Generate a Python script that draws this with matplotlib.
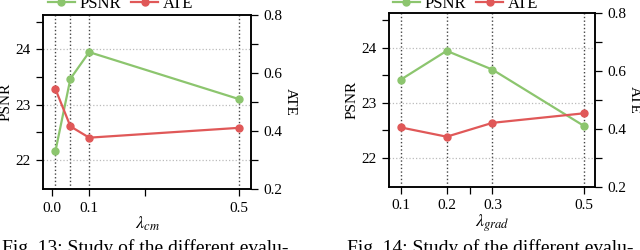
"""
Ablation plots: PSNR / ATE vs. loss weights lambda_cm and lambda_grad.
Two side-by-side panels with a twin y-axis for ATE.
"""

import matplotlib
matplotlib.use("Agg")
import matplotlib.pyplot as plt
from matplotlib.lines import Line2D

plt.rcParams["font.family"] = ["Liberation Serif", "DejaVu Serif"]
plt.rcParams["mathtext.fontset"] = "stix"
plt.rcParams["font.size"] = 11

# ─── Data ────────────────────────────────────────────────────────────────────
CM_X    = [0.01, 0.05, 0.1, 0.5]
CM_PSNR = [22.16, 23.47, 23.95, 23.10]
CM_ATE  = [0.545, 0.416, 0.377, 0.411]
CM_TICKS  = [0.0, 0.1, 0.5]
CM_LABELS = ["0.0", "0.1", "0.5"]

GRAD_X    = [0.1, 0.2, 0.3, 0.5]
GRAD_PSNR = [23.42, 23.94, 23.60, 22.58]
GRAD_ATE  = [0.405, 0.373, 0.421, 0.454]
GRAD_TICKS  = [0.1, 0.2, 0.3, 0.5]
GRAD_LABELS = ["0.1", "0.2", "0.3", "0.5"]

X_MINOR = [0.25]

PSNR_TICKS = [22, 23, 24]
PSNR_MINOR = [22.5, 23.5, 24.5]
ATE_TICKS  = [0.2, 0.4, 0.6, 0.8]
ATE_MINOR  = [0.3, 0.5, 0.7]

CAPTIONS = ["Fig. 13: Study of the different evalu-",
            "Fig. 14: Study of the different evalu-"]

GREEN = "#8cc56e"
RED   = "#e05858"


def panel(fig, rect, x, psnr, ate, ticks, labels, xlim, xlabel):
    ax = fig.add_axes(rect)
    ax2 = ax.twinx()

    ax.set_ylim(21.48, 24.62)
    ax2.set_ylim(0.2, 0.8)
    ax.set_xlim(*xlim)

    ax.grid(axis="y", which="major", color="#bbbbbb", linestyle=":", linewidth=0.9)
    for xv in x:
        ax.axvline(xv, color="#444444", linestyle=":", linewidth=1.0, zorder=1)

    ax.plot(x, psnr, color=GREEN, marker="o", markersize=5, linewidth=1.6, zorder=3)
    ax2.plot(x, ate, color=RED, marker="o", markersize=5, linewidth=1.6, zorder=3)

    ax.set_xticks(ticks)
    ax.set_xticklabels(labels)
    ax.set_xticks(X_MINOR, minor=True)
    ax.set_yticks(PSNR_TICKS)
    ax.set_yticks(PSNR_MINOR, minor=True)
    ax2.set_yticks(ATE_TICKS)
    ax2.set_yticks(ATE_MINOR, minor=True)

    for a in (ax, ax2):
        a.tick_params(which="both", direction="out", length=5, width=0.9,
                      pad=4, labelsize=11)
        for sp in a.spines.values():
            sp.set_linewidth(1.1)

    ax.set_ylabel("PSNR", labelpad=2, fontsize=11)
    ax2.set_ylabel("ATE", rotation=270, labelpad=10, fontsize=11)
    ax.set_xlabel(xlabel, labelpad=0, fontsize=13)
    return ax


def main():
    fig = plt.figure(figsize=(6.4, 2.5), dpi=100)

    panel(fig, [43 / 640, 1 - 189 / 250, 208 / 640, 174 / 250],
          CM_X, CM_PSNR, CM_ATE, CM_TICKS, CM_LABELS, (-0.023, 0.531),
          r"$\lambda_{cm}$")
    panel(fig, [389 / 640, 1 - 186.7 / 250, 206 / 640, 173.4 / 250],
          GRAD_X, GRAD_PSNR, GRAD_ATE, GRAD_TICKS, GRAD_LABELS, (0.074, 0.524),
          r"$\lambda_{grad}$")

    handles = [Line2D([], [], color=GREEN, marker="o", markersize=5, linewidth=1.6),
               Line2D([], [], color=RED, marker="o", markersize=5, linewidth=1.6)]
    for lx in (48 / 640, 393 / 640):
        fig.legend(handles, ["PSNR", "ATE"], loc="center left",
                   bbox_to_anchor=(lx, 1 - 4 / 250), ncol=2, frameon=False,
                   borderpad=0, borderaxespad=0, handlelength=1.6,
                   handletextpad=0.3, columnspacing=0.6, fontsize=12)

    # Captions (cut off at the bottom, as in the source)
    fig.text(2 / 640, 1 - 239 / 250, CAPTIONS[0], fontsize=14, va="top", ha="left")
    fig.text(347 / 640, 1 - 239 / 250, CAPTIONS[1], fontsize=14, va="top", ha="left")

    fig.savefig("out.png", dpi=100)
    plt.close(fig)


if __name__ == "__main__":
    main()
